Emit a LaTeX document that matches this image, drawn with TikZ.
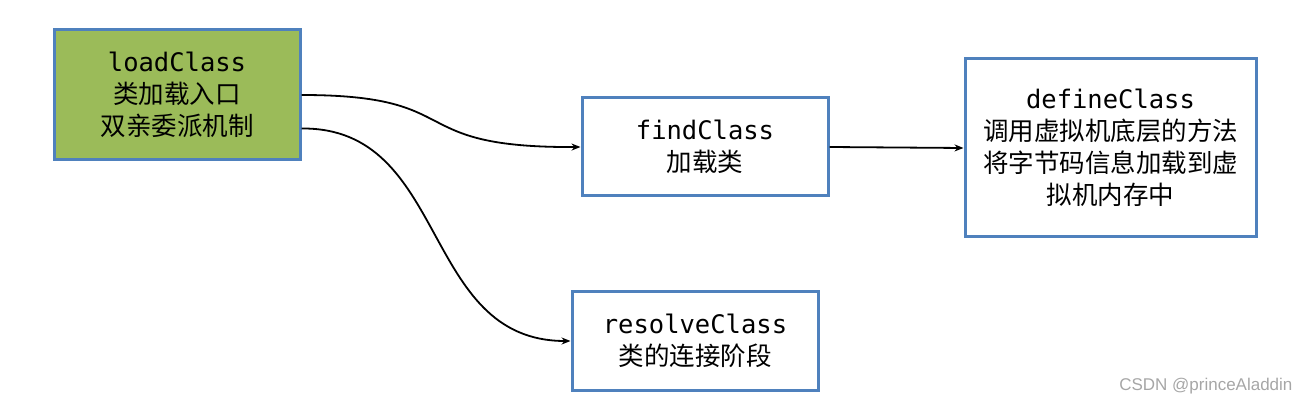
\documentclass[tikz,border=0pt]{standalone}
\usepackage{fontspec}
\setmainfont{Noto Sans CJK SC}
\setmonofont{DejaVu Sans Mono}
\newfontfamily\wmfont{Liberation Sans}
\usetikzlibrary{arrows.meta}
\definecolor{boxblue}{HTML}{4F81BD}
\definecolor{boxgreen}{HTML}{9BBB59}
\begin{document}
\begin{tikzpicture}[x=1pt,y=-1pt,
  box/.style={draw=boxblue,line width=3pt,align=center,inner sep=0pt,
    font=\fontsize{25.5}{32}\selectfont},
  conn/.style={line width=1.8pt,-{Stealth[length=9pt,width=7pt]}}]
\useasboundingbox (0,0) rectangle (1310,406);
\node[box,fill=boxgreen,minimum width=246pt,minimum height=130pt] (load) at (177,95)
  {\texttt{loadClass}\\类加载入口\\双亲委派机制};
\node[box,minimum width=246pt,minimum height=98pt] (find) at (705,147)
  {\texttt{findClass}\\加载类};
\node[box,minimum width=291pt,minimum height=178pt] (define) at (1110.5,148)
  {\texttt{defineClass}\\调用虚拟机底层的方法\\将字节码信息加载到虚\\拟机内存中};
\node[box,minimum width=246pt,minimum height=98pt] (resolve) at (695,341)
  {\texttt{resolveClass}\\类的连接阶段};
\draw[conn] (load.east) .. controls (470,95) and (400,148) .. (find.west);
\draw[conn] ([yshift=33pt]load.south east) .. controls (450,127) and (420,341) .. (resolve.west);
\draw[conn] (find.east) -- (define.west);
\node[text=gray!70,font=\wmfont\fontsize{17}{19}\selectfont,anchor=east] (wm) at (1296,386) {CSDN @princeAladdin};
\end{tikzpicture}
\end{document}
